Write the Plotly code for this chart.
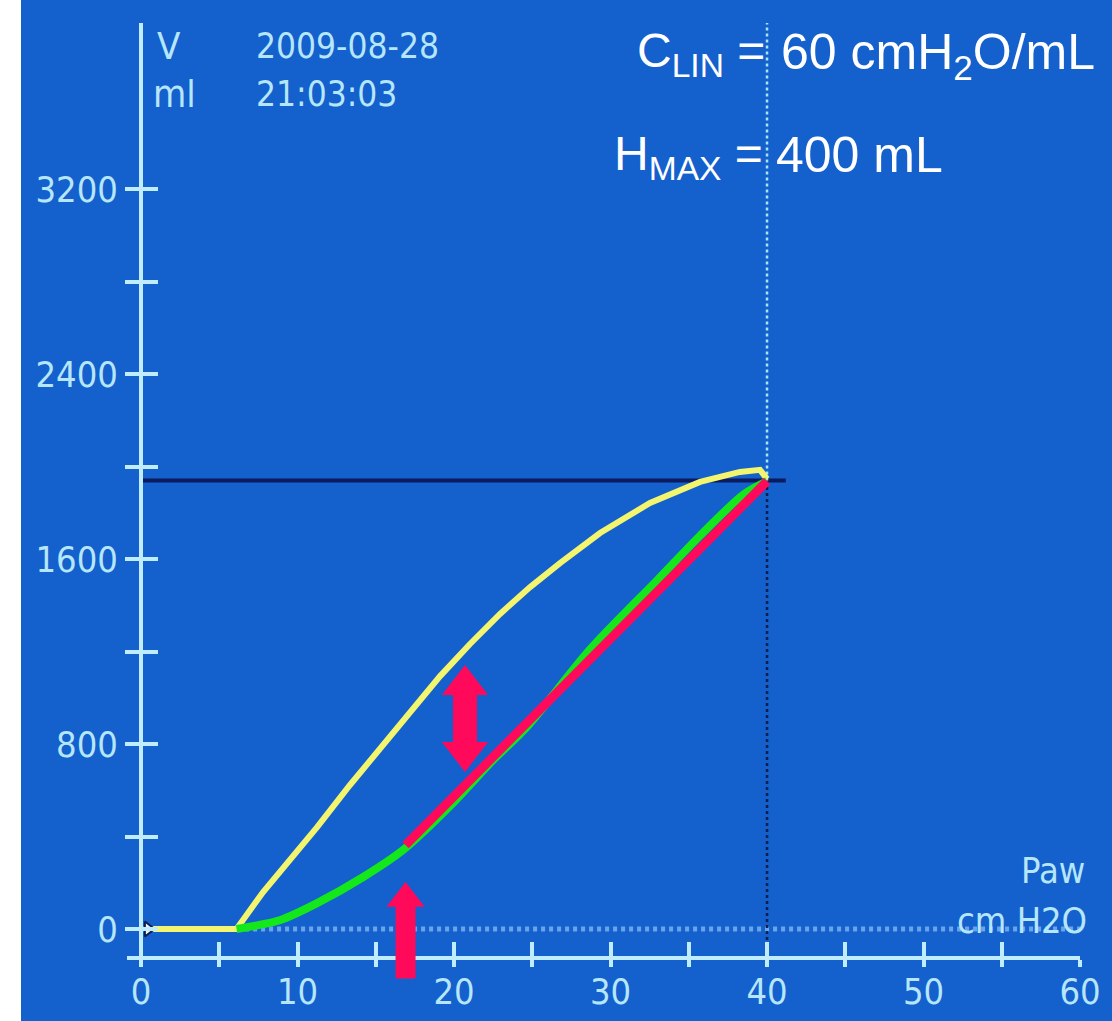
import plotly.graph_objects as go

# ---------------- data ----------------
pressure_ticks = [0, 5, 10, 15, 20, 25, 30, 35, 40, 45, 50, 55, 60]
pressure_labels = ["0", "", "10", "", "20", "", "30", "", "40", "", "50", "", "60"]
volume_ticks = [0, 400, 800, 1200, 1600, 2000, 2400, 2800, 3200]
volume_labels = ["0", "", "800", "", "1600", "", "2400", "", "3200"]

# upper (yellow) limb
upper_p = [0.6, 6.1, 7.8, 9.33, 11.25, 13.35, 15.27, 17.19, 19.11, 21.02, 22.94, 24.86, 26.77,
           29.33, 32.52, 35.72, 38.27, 39.55, 40.0]
upper_v = [0, 0, 160, 285, 441, 623, 783, 939, 1094, 1233, 1363, 1479, 1583,
           1713, 1843, 1934, 1977, 1986, 1947]

# lower (green) limb
lower_p = [6.1, 8.9, 11.25, 14.2, 16.75, 19.75, 22.5, 24.65, 28.7, 33.0, 35.7, 38.5, 40.0]
lower_v = [0, 39, 112, 225, 342, 532, 731, 874, 1210, 1510, 1700, 1880, 1937]

# linear compliance segment (red)
linear_p = [16.9, 40.0]
linear_v = [363, 1937]

peak_p = 40.0
peak_v = 1940
navy_end_p = 41.2
axis_v = -125          # level of the pressure axis line
baseline_end_p = 61

# arrows
gap_arrow_p = 20.7
gap_arrow_top = 1142
gap_arrow_bottom = 679
start_arrow_p = 16.9
start_arrow_tip = 203
start_arrow_tail = -221

# ---------------- layout constants ----------------
W, H = 1112, 1021
L, R, T, B = 127, 32, 23, 56
x_range = [-0.9, 60]
y_range = [-155.7, 3919]
PW, PH = W - L - R, H - T - B
px_per_v = PH / (y_range[1] - y_range[0])

BLUE = "#1460CD"
AXC = "#BFEDFF"
TXC = "#B6E6FA"
RED = "#FF0A5A"
NARROW = "Liberation Sans Narrow, DejaVu Sans Condensed, Arial Narrow, sans-serif"
SANS = "Liberation Sans, Arial, sans-serif"
GAP_HEAD = 40     # marker size of the double-arrow heads
START_HEAD = 33   # marker size of the up-arrow head


def px_x(px):
    return (px - L) / PW


def px_y(py):
    return (H - B - py) / PH


yaxis_pos = (0 - x_range[0]) / (x_range[1] - x_range[0])
xaxis_pos = (axis_v - y_range[0]) / (y_range[1] - y_range[0])

fig = go.Figure()

# dotted zero baseline
fig.add_trace(go.Scatter(x=[0, baseline_end_p], y=[0, 0], mode="lines",
                         line=dict(color="#6AA4EA", width=5, dash="4px,4px"),
                         hoverinfo="skip", showlegend=False))
# navy horizontal line at peak volume
fig.add_trace(go.Scatter(x=[0, navy_end_p], y=[peak_v, peak_v], mode="lines",
                         line=dict(color="#0B1B5E", width=4),
                         hoverinfo="skip", showlegend=False))
# vertical dotted cursor line at peak pressure
fig.add_trace(go.Scatter(x=[peak_p, peak_p], y=[peak_v, y_range[1]], mode="lines",
                         line=dict(color="#A8E4F8", width=2.5, dash="3px,3px"),
                         hoverinfo="skip", showlegend=False))
fig.add_trace(go.Scatter(x=[peak_p, peak_p], y=[axis_v, peak_v], mode="lines",
                         line=dict(color="#0A1E50", width=2.5, dash="3px,3px"),
                         hoverinfo="skip", showlegend=False))
# curves
fig.add_trace(go.Scatter(x=upper_p, y=upper_v, mode="lines",
                         line=dict(color="#F4F56E", width=6),
                         hoverinfo="skip", showlegend=False))
fig.add_trace(go.Scatter(x=lower_p, y=lower_v, mode="lines", line_shape="spline",
                         line=dict(color="#14E81A", width=8, smoothing=0.8),
                         hoverinfo="skip", showlegend=False))
fig.add_trace(go.Scatter(x=linear_p, y=linear_v, mode="lines",
                         line=dict(color=RED, width=9),
                         hoverinfo="skip", showlegend=False))
# cursor mark at the origin
fig.add_trace(go.Scatter(x=[0.45], y=[0], mode="markers", cliponaxis=False,
                         marker=dict(symbol="triangle-right", size=13, color="#F4F4F4",
                                     line=dict(color="#0A1E50", width=2)),
                         hoverinfo="skip", showlegend=False))
# arrow heads (triangle markers, tip placed on the arrow tip)
g_off = (GAP_HEAD / 2) / px_per_v
s_off = (START_HEAD / 2) / px_per_v
fig.add_trace(go.Scatter(x=[gap_arrow_p, gap_arrow_p, start_arrow_p],
                         y=[gap_arrow_top - g_off, gap_arrow_bottom + g_off, start_arrow_tip - s_off],
                         mode="markers", cliponaxis=False,
                         marker=dict(symbol=["triangle-up", "triangle-down", "triangle-up"],
                                     size=[GAP_HEAD, GAP_HEAD, START_HEAD],
                                     color=RED, line=dict(width=0), opacity=1),
                         hoverinfo="skip", showlegend=False))
# dummy trace for the overlay axes (inner tick halves)
fig.add_trace(go.Scatter(x=[None], y=[None], xaxis="x2", yaxis="y2", showlegend=False, hoverinfo="skip"))

annotations = []
# arrow shafts
annotations.append(dict(x=gap_arrow_p, y=gap_arrow_top, ax=gap_arrow_p, ay=gap_arrow_bottom,
                        xref="x", yref="y", axref="x", ayref="y", text="", showarrow=True,
                        arrowhead=0, arrowwidth=24, arrowcolor=RED,
                        standoff=0.7 * GAP_HEAD, startstandoff=0.7 * GAP_HEAD))
annotations.append(dict(x=start_arrow_p, y=start_arrow_tip, ax=start_arrow_p, ay=start_arrow_tail,
                        xref="x", yref="y", axref="x", ayref="y", text="", showarrow=True,
                        arrowhead=0, arrowwidth=20, arrowcolor=RED, standoff=0.7 * START_HEAD))


def label(text, px, py, anchor="left", size=36, color=TXC, family=NARROW, vanchor="middle"):
    annotations.append(dict(text=text, x=px_x(px), y=px_y(py), xref="paper", yref="paper",
                            xanchor=anchor, yanchor=vanchor, showarrow=False,
                            font=dict(family=family, size=size, color=color)))


label("V", 155, 46, size=38)
label("ml", 151, 94, size=38)
label("2009-08-28", 254, 46, size=35)
label("21:03:03", 254, 94, size=35)
label("Paw", 1087, 870, anchor="right")
label("cm H2O", 1089, 920, anchor="right")
label("C<sub>LIN</sub> =", 767, 22, anchor="right", size=48, color="white", family=SANS, vanchor="top")
label("60 cmH<sub>2</sub>O/mL", 779, 22, anchor="left", size=50, color="white", family=SANS, vanchor="top")
label("H<sub>MAX</sub> =", 765, 125, anchor="right", size=48, color="white", family=SANS, vanchor="top")
label("400 mL", 774, 125, anchor="left", size=50, color="white", family=SANS, vanchor="top")

tickfont = dict(family=NARROW, size=36, color=TXC)

fig.update_layout(
    width=W, height=H,
    margin=dict(l=L, r=R, t=T, b=B, pad=0, autoexpand=False),
    paper_bgcolor=BLUE, plot_bgcolor=BLUE,
    showlegend=False,
    annotations=annotations,
    shapes=[dict(type="rect", xref="paper", yref="paper",
                 x0=px_x(0), x1=px_x(21), y0=px_y(H + 5), y1=px_y(-5),
                 fillcolor="white", line=dict(width=0), layer="below")],
    xaxis=dict(range=x_range, anchor="free", position=xaxis_pos,
               showline=True, linecolor=AXC, linewidth=4,
               tickmode="array", tickvals=pressure_ticks, ticktext=pressure_labels,
               ticks="outside", ticklen=7, tickwidth=4, tickcolor=AXC,
               ticklabelstandoff=-6,
               tickfont=tickfont, showgrid=False, zeroline=False, fixedrange=True),
    xaxis2=dict(range=x_range, overlaying="x", anchor="free", position=xaxis_pos,
                showline=False, tickmode="array", tickvals=pressure_ticks,
                ticks="inside", ticklen=16, tickwidth=4, tickcolor=AXC,
                showticklabels=False, showgrid=False, zeroline=False),
    yaxis=dict(range=y_range, anchor="free", position=yaxis_pos,
               showline=True, linecolor=AXC, linewidth=4,
               tickmode="array", tickvals=volume_ticks, ticktext=volume_labels,
               ticks="outside", ticklen=14, tickwidth=4, tickcolor=AXC,
               tickfont=tickfont, showgrid=False, zeroline=False, fixedrange=True),
    yaxis2=dict(range=y_range, overlaying="y", anchor="free", position=yaxis_pos,
                showline=False, tickmode="array", tickvals=volume_ticks,
                ticks="inside", ticklen=16, tickwidth=4, tickcolor=AXC,
                showticklabels=False, showgrid=False, zeroline=False),
)

fig.write_html("out.html", config={"displayModeBar": False},
               post_script="document.body.style.margin='0';document.body.style.overflow='hidden';")
